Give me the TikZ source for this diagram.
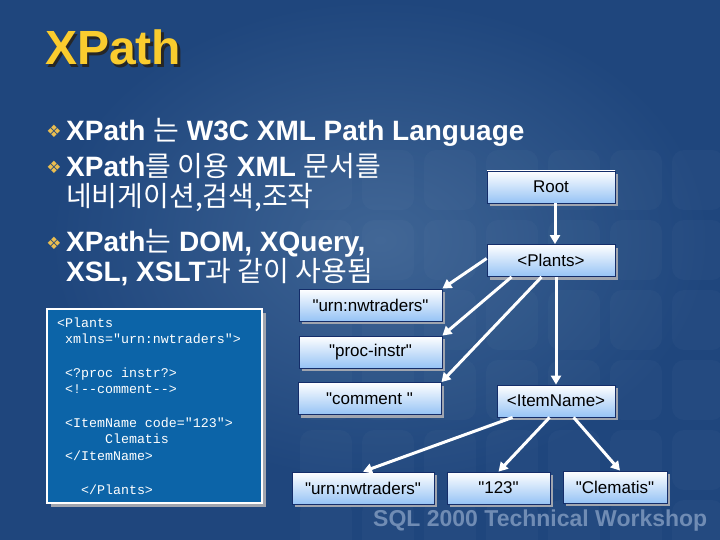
\documentclass[tikz,border=0pt]{standalone}
\usepackage{fontspec}
\setmainfont{Liberation Sans}[Ligatures=TeXOff]
\setmonofont{Liberation Mono}
\newfontfamily\krfont{Noto Sans CJK KR}
\newfontfamily\symfont{DejaVu Sans}
\usetikzlibrary{arrows.meta, positioning, shadows}
\definecolor{bgblue}{RGB}{31,70,125}
\definecolor{bglight}{RGB}{62,100,148}
\definecolor{boxblue}{RGB}{150,195,245}
\definecolor{boxline}{RGB}{20,45,105}
\definecolor{shadowgray}{RGB}{160,165,175}
\definecolor{codeblue}{RGB}{12,100,168}
\definecolor{titleyellow}{RGB}{250,204,46}
\definecolor{bulletgold}{RGB}{235,190,80}
\definecolor{wmark}{RGB}{112,140,180}
\newcommand\ko[1]{{\krfont\mdseries #1}}
\newcommand\blank[1]{\hphantom{#1}}

\begin{document}
\begin{tikzpicture}[x=1pt, y=-1pt,
    treebox/.style={draw=boxline, line width=0.8pt, top color=white, bottom color=boxblue,
      minimum height=32pt, inner sep=0pt, font=\fontsize{17}{20}\selectfont,
      general shadow={fill=shadowgray, shadow xshift=3pt, shadow yshift=-3pt}},
    item/.style={anchor=base west, align=left, inner sep=0pt, text=white,
      font=\fontsize{28}{30}\selectfont\bfseries},
    bullet/.style={text=bulletgold, inner sep=0pt, font=\fontsize{17}{17}\symfont},
    link/.style={draw=white, line width=3pt, -{Triangle[length=9pt, width=10pt]}}]
    \useasboundingbox (0,0) rectangle (720,540);
    \fill[bgblue] (0,0) rectangle (720,540);
    \shade[inner color=bglight, outer color=bgblue] (380,240) ellipse (330 and 240);
    \foreach \i in {0,...,6}
      \foreach \j in {0,...,5}
        \fill[white, fill opacity=0.025, rounded corners=12pt]
          (300+\i*62,150+\j*70) rectangle ++(52,60);

    \node[anchor=base west, inner sep=0pt, text=black!85, font=\fontsize{48}{50}\selectfont\bfseries] (titleshadow) at (47.5,67.5) {XPath};
    \node[anchor=base west, inner sep=0pt, text=titleyellow, font=\fontsize{48}{50}\selectfont\bfseries] (title) at (45,65) {XPath};

    \node[bullet] (b1) at (54,131) {❖};
    \node[item] (t1) at (66,141) {XPath \ko{는} W3C XML Path Language};
    \node[bullet] (b2) at (54,167) {❖};
    \node[item] (t2) at (66,207) {XPath\ko{를 이용} XML \ko{문서를}\\\ko{네비게이션,검색,조작}};
    \node[bullet] (b3) at (54,243) {❖};
    \node[item] (t3) at (66,281) {XPath\ko{는} DOM, XQuery,\\XSL, XSLT\ko{과 같이 사용됨}};

    \node[draw=white, line width=2.5pt, fill=codeblue, minimum width=215pt, minimum height=194pt,
      general shadow={fill=shadowgray, shadow xshift=4pt, shadow yshift=-4pt}] (code) at (154.5,406) {};
    \node[anchor=base west, align=left, inner sep=0pt, text=white, font=\fontsize{13.3}{16.7}\selectfont\ttfamily] (codetext) at (57,494)
      {<Plants\\
       \blank{x}xmlns="urn:nwtraders">\\[16.7pt]
       \blank{x}<?proc instr?>\\
       \blank{x}<!-{}-comment-{}->\\[16.7pt]
       \blank{x}<ItemName code="123">\\
       \blank{xxxxxx}Clematis\\
       \blank{x}</ItemName>\\[16.7pt]
       \blank{xxx}</Plants>};

    \node[treebox, minimum width=128pt] (root) at (551,187) {Root};
    \node[treebox, minimum width=128pt] (plants) at (551,260.5) {<Plants>};
    \node[treebox, minimum width=143pt] (urn) at (370.5,305) {"urn:nwtraders"};
    \node[treebox, minimum width=143pt] (proc) at (370.5,352) {"proc-instr"};
    \node[treebox, minimum width=143pt] (comment) at (369.5,398.5) {"comment "};
    \node[treebox, minimum width=118pt] (itemname) at (556,401) {<ItemName>};
    \node[treebox, minimum width=142pt] (urnb) at (363,488) {"urn:nwtraders"};
    \node[treebox, minimum width=103pt] (code123) at (498.5,488) {"123"};
    \node[treebox, minimum width=104pt] (clematis) at (615,487) {"Clematis"};

    \draw[link] ([xshift=4pt]root.south) -- ([xshift=4pt]plants.north);
    \draw[link] (plants.south -| itemname.north) -- (itemname.north);
    \draw[link] ([yshift=2pt]plants.west) -- (urn.north east);
    \draw[link] ([xshift=25pt]plants.south west) -- (proc.north east);
    \draw[link] ([xshift=55pt]plants.south west) -- (comment.north east);
    \draw[link] ([xshift=16pt]itemname.south west) -- (urnb.north);
    \draw[link] ([xshift=53pt]itemname.south west) -- (code123.north);
    \draw[link] ([xshift=77pt]itemname.south west) -- ([xshift=5pt]clematis.north);

    \node[anchor=base west, inner sep=0pt, text=wmark, font=\fontsize{23}{25}\selectfont\bfseries] (workshop) at (373,526) {SQL 2000 Technical Workshop};
\end{tikzpicture}
\end{document}
